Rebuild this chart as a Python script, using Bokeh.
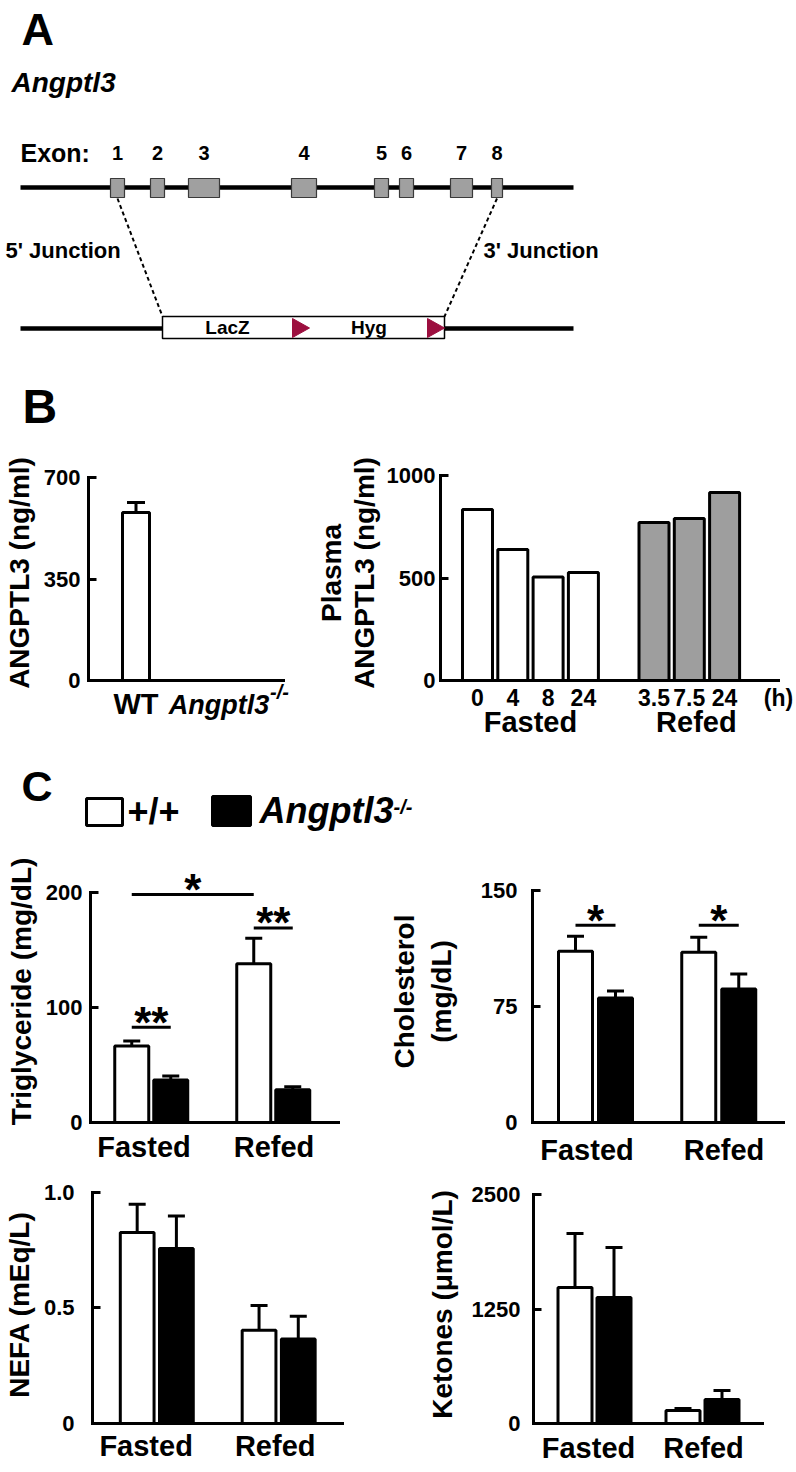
from bokeh.plotting import figure
from bokeh.models import Range1d, FixedTicker, LinearAxis, Whisker, TeeHead, ColumnDataSource
from bokeh.layouts import column, row
from bokeh.embed import file_html
from bokeh.resources import INLINE
from bokeh.core.properties import value

FONT = "Liberation Sans"

# ---------------- data ----------------
# Panel A: Angptl3 locus (positions along the drawn locus)
exon_labels = ["1", "2", "3", "4", "5", "6", "7", "8"]
exon_start = [110, 150, 188, 291, 374, 399, 450, 491]
exon_end = [124, 164, 219, 316, 388, 413, 472, 502]
locus_start, locus_end = 20, 573
cassette_labels = ["LacZ", "Hyg"]
cassette_start = [162, 310]
cassette_end = [292, 427]
loxp_start = [292, 427]
junction_labels = ["5' Junction", "3' Junction"]

# Panel B
b1_groups = ["WT", "Angptl3"]
b1_values = [579, 0]
b1_errors = [35, 0]
b1_ticks = [0, 350, 700]

b2_hours = ["0", "4", "8", "24", "3.5", "7.5", "24"]
b2_state = ["Fasted", "Fasted", "Fasted", "Fasted", "Refed", "Refed", "Refed"]
b2_values = [834, 639, 505, 527, 771, 790, 917]
b2_ticks = [0, 500, 1000]

# Panel C
conditions = ["Fasted", "Refed"]
tg_wt, tg_wt_err = [66.4, 138.0], [4.3, 22.0]
tg_ko, tg_ko_err = [37.0, 28.4], [3.5, 2.6]
tg_ticks = [0, 100, 200]
tg_sig = [(0, 2, 198, "*"), (2, 3, 169, "**"), (0, 1, 82.8, "**")]

chol_wt, chol_wt_err = [110.7, 110.0], [9.7, 9.7]
chol_ko, chol_ko_err = [80.5, 86.3], [4.5, 9.7]
chol_ticks = [0, 75, 150]
chol_sig = [(0, 1, 127.5, "*"), (2, 3, 127.5, "*")]

nefa_wt, nefa_wt_err = [0.826, 0.404], [0.123, 0.107]
nefa_ko, nefa_ko_err = [0.757, 0.366], [0.141, 0.098]
nefa_ticks = [0, 0.5, 1.0]
nefa_tick_labels = ["0", "0.5", "1.0"]

ket_wt, ket_wt_err = [1485, 142], [589, 22]
ket_ko, ket_ko_err = [1376, 262], [545, 98]
ket_ticks = [0, 1250, 2500]

GRAY = "#9e9e9e"
RED = "#9c0f3f"


# ---------------- helpers ----------------
def canvas(top, height):
    p = figure(width=796, height=height, x_range=Range1d(0, 796),
               y_range=Range1d(top + height, top), output_backend="svg",
               toolbar_location=None, x_axis_location=None, y_axis_location=None,
               min_border=0, outline_line_color=None)
    p.xgrid.visible = False
    p.ygrid.visible = False
    return p


def txt(p, x, y, text, size, style="bold", align="left"):
    p.text(x=x, y=y, text=text, text_font=value(FONT),
           text_font_size=value(f"{size}px"), text_font_style=style,
           text_align=align, text_baseline="middle", text_color="black")


def style_axis(ax, size, tick_in, standoff, style="bold"):
    ax.axis_line_color = "black"
    ax.axis_line_width = 3
    ax.axis_line_cap = "square"
    ax.major_tick_line_color = "black"
    ax.major_tick_line_width = 3
    ax.major_tick_in = tick_in
    ax.major_tick_out = 0
    ax.minor_tick_line_color = None
    ax.major_label_text_font = FONT
    ax.major_label_text_font_style = style
    ax.major_label_text_font_size = f"{size}px"
    ax.major_label_text_color = "black"
    ax.major_label_standoff = standoff
    ax.axis_label_text_font = FONT
    ax.axis_label_text_font_style = "bold"
    ax.axis_label_text_font_size = "28px"
    ax.axis_label_text_color = "black"


def label_axis(p, ticks, labels, size, standoff, style="bold"):
    """An extra, line-less axis below the frame that only carries labels."""
    ax = LinearAxis(ticker=FixedTicker(ticks=ticks),
                    major_label_overrides=dict(zip(ticks, labels)))
    style_axis(ax, size, 0, standoff, style)
    ax.axis_line_color = None
    ax.major_tick_line_color = None
    p.add_layout(ax, "below")
    return ax


def chart(g):
    x_start = (g["frame_left"] - g["x0"]) / g["ppx"]
    x_end = (g["frame_right"] - g["x0"]) / g["ppx"]
    y_end = (g["zero_y"] - g["frame_top"]) / g["ppy"]
    p = figure(width=g["width"], height=g["height"],
               x_range=Range1d(x_start, x_end), y_range=Range1d(0, y_end),
               output_backend="svg", toolbar_location=None,
               min_border_left=g["frame_left"] - g["left"],
               min_border_right=g["left"] + g["width"] - g["frame_right"],
               min_border_top=g["frame_top"] - g["top"],
               min_border_bottom=g["top"] + g["height"] - g["zero_y"],
               outline_line_color=None)
    p.xgrid.visible = False
    p.ygrid.visible = False
    ya = p.yaxis[0]
    style_axis(ya, 22, 8, g["ytick_standoff"])
    ya.ticker = FixedTicker(ticks=g["yticks"])
    ya.bounds = (0, g["yticks"][-1])
    ya.axis_label = g["ylabel"]
    ya.axis_label_standoff = g["ylabel_standoff"]
    ya.axis_label_text_line_height = g.get("line_height", 1.2)
    if "ytick_labels" in g:
        ya.major_label_overrides = dict(zip(g["yticks"], g["ytick_labels"]))
    xa = p.xaxis[0]
    style_axis(xa, g["xsize"], 0, g["xtick_standoff"])
    xa.bounds = (x_start, (g["axis_end"] - g["x0"]) / g["ppx"])
    return p


def whiskers(p, xs, tops, errs, cap):
    src = ColumnDataSource(dict(x=xs, lower=tops, upper=[t + e for t, e in zip(tops, errs)]))
    p.add_layout(Whisker(source=src, base="x", lower="lower", upper="upper",
                         line_color="black", line_width=3, lower_head=None,
                         upper_head=TeeHead(size=cap, line_color="black", line_width=3)))


def c_panel(g, wt, wt_err, ko, ko_err, sig=()):
    p = chart(g)
    half = g["pair_half"] / g["ppx"]
    bw = g["bar_px"] / g["ppx"]
    centers = list(range(len(conditions)))
    xw = [c - half for c in centers]
    xk = [c + half for c in centers]
    whiskers(p, xw + xk, wt + ko, wt_err + ko_err, 17)
    p.vbar(x=xw, top=wt, width=bw, fill_color="white", line_color="black", line_width=3)
    p.vbar(x=xk, top=ko, width=bw, fill_color="black", line_color="black", line_width=3)
    pos = [(lp - g["x0"]) / g["ppx"] for lp in g["group_label_px"]]
    xa = p.xaxis[0]
    xa.ticker = FixedTicker(ticks=pos)
    xa.major_label_overrides = dict(zip(pos, conditions))
    bar_x = [xw[0], xk[0], xw[1], xk[1]]
    if sig:
        p.segment(x0=[bar_x[a] for a, b, y, s in sig], x1=[bar_x[b] for a, b, y, s in sig],
                  y0=[y for a, b, y, s in sig], y1=[y for a, b, y, s in sig],
                  line_color="black", line_width=3)
        p.text(x=[(bar_x[a] + bar_x[b]) / 2 for a, b, y, s in sig], y=[y for a, b, y, s in sig],
               text=[s for a, b, y, s in sig], text_font=value(FONT),
               text_font_size=value("44px"), text_font_style="bold",
               text_align="center", text_baseline="middle", y_offset=-5)
    return p


# ---------------- Panel A ----------------
pa = canvas(0, 365)
txt(pa, [21], [29], ["A"], 45)
txt(pa, [11], [82], ["Angptl3"], 28, "bold italic")
txt(pa, [20], [152.5], ["Exon:"], 25)
ex_c = [(s + e) / 2 for s, e in zip(exon_start, exon_end)]
txt(pa, ex_c, [152] * len(ex_c), exon_labels, 20, align="center")
pa.segment(x0=[locus_start, locus_start], x1=[locus_end, locus_end], y0=[187, 328], y1=[187, 328],
           line_color="black", line_width=4.5)
pa.quad(left=exon_start, right=exon_end, top=[178] * 8, bottom=[197] * 8,
        fill_color="#a0a0a0", line_color="#3a3a3a", line_width=1.2)
pa.quad(left=[cassette_start[0]], right=[loxp_start[-1] + 17], top=[316], bottom=[338],
        fill_color="white", line_color="black", line_width=1.5)
pa.patches(xs=[[s, s, s + 17] for s in loxp_start], ys=[[318, 337, 327.5]] * 2,
           fill_color=RED, line_color=RED)
txt(pa, [(s + e) / 2 for s, e in zip(cassette_start, cassette_end)], [327, 327],
    cassette_labels, 19, align="center")
pa.segment(x0=[ex_c[0], ex_c[-1]], y0=[198, 198], x1=[cassette_start[0], loxp_start[-1] + 17],
           y1=[316, 316], line_color="black", line_width=2, line_dash="4 3")
txt(pa, [5, 483], [250, 250], junction_labels, 22)

# ---------------- Panel B ----------------
pbh = canvas(365, 75)
txt(pbh, [22], [405.5], ["B"], 48)

gB1 = dict(left=0, top=440, width=302, height=306, frame_left=88, frame_right=283,
           frame_top=465, zero_y=680, ppy=203 / 700, x0=135.5, ppx=99,
           axis_end=283, yticks=b1_ticks, ylabel="ANGPTL3 (ng/ml)", ytick_standoff=8,
           ylabel_standoff=6, xsize=29, xtick_standoff=7)
pb1 = chart(gB1)
bx = list(range(len(b1_groups)))
whiskers(pb1, bx[:1], b1_values[:1], b1_errors[:1], 18)
pb1.vbar(x=bx, top=b1_values, width=27 / 99, fill_color="white", line_color="black", line_width=3)
pb1.xaxis[0].ticker = FixedTicker(ticks=[bx[0]])
pb1.xaxis[0].major_label_overrides = {bx[0]: b1_groups[0]}
ko_x = (218.5 - gB1["x0"]) / gB1["ppx"]
sup_x = (279 - gB1["x0"]) / gB1["ppx"]
label_axis(pb1, [ko_x], [b1_groups[1]], 27, -33, "bold italic")
label_axis(pb1, [sup_x], ["-/-"], 20, -42, "bold italic")

gB2 = dict(left=302, top=440, width=494, height=306, frame_left=440, frame_right=778,
           frame_top=465, zero_y=680, ppy=0.205, x0=477, ppx=35.3, axis_end=778,
           yticks=b2_ticks, ylabel="Plasma\nANGPTL3 (ng/ml)", ytick_standoff=5, ylabel_standoff=4,
           line_height=1.05, xsize=23, xtick_standoff=4)
pb2 = chart(gB2)
b2_x = [i + (1 if s == "Refed" else 0) for i, s in enumerate(b2_state)]
b2_fill = ["white" if s == "Fasted" else GRAY for s in b2_state]
pb2.vbar(x=b2_x, top=b2_values, width=30 / 35.3, fill_color=b2_fill, line_color="black", line_width=3)
h_pos = (gB2["axis_end"] - gB2["x0"]) / gB2["ppx"]
pb2.xaxis[0].ticker = FixedTicker(ticks=b2_x + [h_pos])
pb2.xaxis[0].major_label_overrides = dict(zip(b2_x + [h_pos], b2_hours + ["(h)"]))
label_axis(pb2, [1.5, 6.2], ["Fasted", "Refed"], 29, -8)

# ---------------- Panel C ----------------
pch = canvas(746, 99)
txt(pch, [21], [785], ["C"], 43)
pch.quad(left=[86], right=[122], top=[798], bottom=[825], fill_color="white",
         line_color="black", line_width=3)
pch.quad(left=[212], right=[250], top=[796], bottom=[825], fill_color="black",
         line_color="black", line_width=3)
txt(pch, [127], [811], ["+/+"], 36)
txt(pch, [259], [810], ["Angptl3"], 36, "bold italic")
txt(pch, [393], [806], ["-/-"], 20, "bold italic")

gC1 = dict(left=0, top=845, width=372, height=323, frame_left=90, frame_right=372,
           frame_top=860, zero_y=1124, ppy=232 / 200, x0=150.75, ppx=122, axis_end=338,
           pair_half=19.5, bar_px=34, group_label_px=[143.5, 273.5],
           yticks=tg_ticks, ylabel="Triglyceride (mg/dL)", ytick_standoff=8, ylabel_standoff=6,
           xsize=29, xtick_standoff=8)
pc1 = c_panel(gC1, tg_wt, tg_wt_err, tg_ko, tg_ko_err, tg_sig)

gC2 = dict(left=372, top=845, width=424, height=323, frame_left=532, frame_right=790,
           frame_top=860, zero_y=1123, ppy=233 / 150, x0=595, ppx=123.25, axis_end=783,
           pair_half=20, bar_px=34, group_label_px=[586.5, 723.5],
           yticks=chol_ticks, ylabel="Cholesterol\n(mg/dL)", ytick_standoff=15, ylabel_standoff=21,
           xsize=29, xtick_standoff=11)
pc2 = c_panel(gC2, chol_wt, chol_wt_err, chol_ko, chol_ko_err, chol_sig)

gC3 = dict(left=0, top=1168, width=372, height=300, frame_left=90, frame_right=372,
           frame_top=1185, zero_y=1427, ppy=235, x0=154.75, ppx=122.75, axis_end=342,
           pair_half=19.75, bar_px=34, group_label_px=[144, 274],
           yticks=nefa_ticks, ytick_labels=nefa_tick_labels, ylabel="NEFA (mEq/L)",
           ytick_standoff=18, ylabel_standoff=6, xsize=29, xtick_standoff=6)
pc3 = c_panel(gC3, nefa_wt, nefa_wt_err, nefa_ko, nefa_ko_err)

gC4 = dict(left=372, top=1168, width=424, height=300, frame_left=533, frame_right=785,
           frame_top=1185, zero_y=1423, ppy=229 / 2500, x0=594, ppx=108, axis_end=762,
           pair_half=19.5, bar_px=34, group_label_px=[588, 703],
           yticks=ket_ticks, ylabel="Ketones (\u03bcmol/L)", ytick_standoff=13, ylabel_standoff=11,
           xsize=29, xtick_standoff=8)
pc4 = c_panel(gC4, ket_wt, ket_wt_err, ket_ko, ket_ko_err)

layout = column([pa, pbh, row([pb1, pb2]), pch, row([pc1, pc2]), row([pc3, pc4])])
open("out.html", "w").write(file_html(layout, INLINE))
